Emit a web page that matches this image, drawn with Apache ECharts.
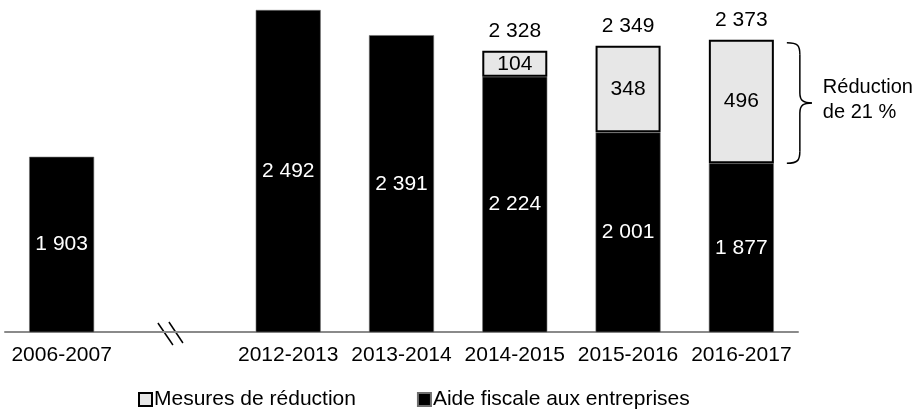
<!DOCTYPE html>
<html>
<head>
<meta charset="utf-8">
<script src="https://cdn.jsdelivr.net/npm/echarts@6/dist/echarts.min.js"></script>
<style>
  html, body { margin: 0; padding: 0; background: #fff; }
  #chart { width: 922px; height: 409px; }
</style>
</head>
<body>
<div id="chart"></div>
<script>
// Categories (the empty slot marks the break in the time axis)
const categories = ['2006-2007', '', '2012-2013', '2013-2014', '2014-2015', '2015-2016', '2016-2017'];
// Aide fiscale aux entreprises (M$)
const aideFiscale = [1903, null, 2492, 2391, 2224, 2001, 1877];
// Mesures de réduction (M$)
const mesuresReduction = [null, null, null, null, 104, 348, 496];
const noteText = 'Réduction\nde 21 %';

// Stack totals shown above the bars that carry a reduction
const totals = aideFiscale.map((v, i) =>
  mesuresReduction[i] == null ? null : v + mesuresReduction[i]);

const FONT = "'Liberation Sans', Arial, sans-serif";
const fmt = v => String(v).replace(/\B(?=(\d{3})+(?!\d))/g, ' ');

const chart = echarts.init(document.getElementById('chart'), null, { renderer: 'canvas' });

chart.setOption({
  animation: false,
  textStyle: { fontFamily: FONT },
  grid: { left: 5, right: 124, top: 8, bottom: 77, containLabel: false },
  legend: {
    data: ['Mesures de réduction', 'Aide fiscale aux entreprises'],
    left: 133, top: 384,
    icon: 'rect',
    itemWidth: 13, itemHeight: 13, itemGap: 61,
    textStyle: { fontFamily: FONT, fontSize: 21, color: '#000', padding: [0, 0, 0, -3] }
  },
  xAxis: {
    type: 'category',
    data: categories,
    axisLine: { lineStyle: { color: '#8a8a8a', width: 2 } },
    axisTick: { show: false },
    axisLabel: { fontFamily: FONT, fontSize: 21, color: '#000', margin: 13, interval: 0 }
  },
  yAxis: {
    type: 'value', min: 1200, max: 2500,
    show: false, splitLine: { show: false }
  },
  series: [
    {
      name: 'Aide fiscale aux entreprises',
      type: 'bar', stack: 'total', barWidth: 65, clip: true,
      data: aideFiscale,
      itemStyle: { color: '#000', borderColor: '#6e6e6e', borderWidth: 0.6 },
      label: {
        show: true, position: 'inside', color: '#fff',
        fontFamily: FONT, fontSize: 21, formatter: p => fmt(p.value)
      }
    },
    {
      name: 'Mesures de réduction',
      type: 'bar', stack: 'total', barWidth: 65,
      data: mesuresReduction,
      itemStyle: { color: '#e7e7e7', borderColor: '#000', borderWidth: 2 },
      label: {
        show: true, position: 'inside', color: '#000',
        fontFamily: FONT, fontSize: 21, formatter: p => fmt(p.value)
      }
    },
    {
      name: 'Total',
      type: 'scatter', symbolSize: 0,
      itemStyle: { color: '#000', opacity: 1 },
      data: totals,
      silent: true,
      label: {
        show: true, position: 'top', distance: 9, color: '#000', opacity: 1,
        fontFamily: FONT, fontSize: 21, formatter: p => fmt(p.value)
      }
    }
  ]
});

// Annotations: axis break marker and the brace around the last reduction
function drawAnnotations() {
  const px = (x, y) => chart.convertToPixel({ xAxisIndex: 0, yAxisIndex: 0 }, [x, y]);
  const last = categories.length - 1;
  const top = px(last, totals[last]);
  const bot = px(last, aideFiscale[last]);
  const x0 = top[0] + 32.5 + 13;
  const yT = top[1] + 3, yB = bot[1], yM = (yT + yB) / 2;
  const stroke = { stroke: '#000', lineWidth: 1.5, fill: null };
  const curve = (x1, y1, c1x, c1y, c2x, c2y, x2, y2) => ({
    type: 'bezierCurve',
    shape: { x1, y1, cpx1: c1x, cpy1: c1y, cpx2: c2x, cpy2: c2y, x2, y2 },
    style: stroke
  });
  const seg = (x1, y1, x2, y2) => ({ type: 'line', shape: { x1, y1, x2, y2 }, style: stroke });
  const vx = x0 + 13, tip = x0 + 25;

  const brk = px(1, 1200);
  const bx = brk[0] - 4, by = brk[1] + 1;

  chart.setOption({
    graphic: [
      curve(x0, yT, vx - 2, yT, vx, yT + 3, vx, yT + 12),
      seg(vx, yT + 12, vx, yM - 10),
      curve(vx, yM - 10, vx, yM - 2, vx + 4, yM, tip, yM),
      curve(tip, yM, vx + 4, yM, vx, yM + 2, vx, yM + 10),
      seg(vx, yM + 10, vx, yB - 12),
      curve(vx, yB - 12, vx, yB - 3, vx - 2, yB, x0, yB),
      {
        type: 'text', left: x0 + 36, top: yM - 28,
        style: { text: noteText, font: `20px ${FONT}`, fill: '#000', lineHeight: 25 }
      },
      seg(bx - 13, by - 10, bx + 2, by + 12),
      seg(bx - 2, by - 11, bx + 12, by + 10)
    ]
  });
}
drawAnnotations();
</script>
</body>
</html>
